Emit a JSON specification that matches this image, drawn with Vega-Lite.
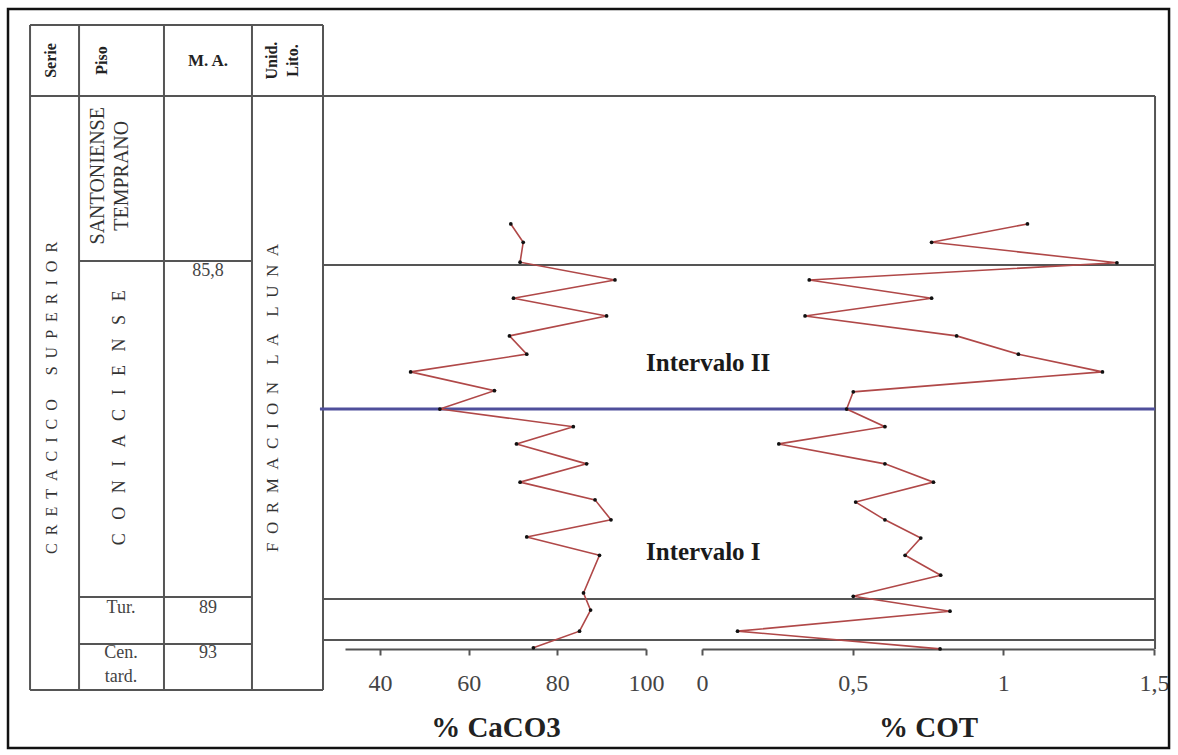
{
  "$schema": "https://vega.github.io/schema/vega-lite/v6.json",
  "width": 1178,
  "height": 755,
  "autosize": {"type": "none"},
  "padding": 0,
  "background": "white",
  "config": {
    "view": {"stroke": null},
    "font": "Liberation Serif",
    "axis": {"labelFont": "Liberation Serif", "titleFont": "Liberation Serif"},
    "text": {"font": "Liberation Serif"}
  },
  "resolve": {"scale": {"x": "independent"}, "axis": {"x": "independent"}},
  "layer": [
    {
      "layer": [
        {
          "data": {"values": [{"x1": 0.68, "x2": 99.24, "y1": -17.69, "y2": 115.7}]},
          "mark": {"type": "rect", "filled": false, "stroke": "#111111", "strokeWidth": 2.5},
          "encoding": {
            "x": {"field": "x1", "type": "quantitative", "scale": {"domain": [0, 100], "range": [0, 1178], "nice": false, "zero": false}, "axis": null},
            "x2": {"field": "x2"},
            "y": {"field": "y1", "type": "quantitative", "scale": {"domain": [0, 100], "range": [650, 96], "nice": false, "zero": false}, "axis": null},
            "y2": {"field": "y2"}
          }
        },
        {
          "data": {"values": [
            {"linea": "borde izquierdo", "x": 2.55, "y1": -7.2, "y2": 112.8},
            {"linea": "Serie/Piso", "x": 6.71, "y1": -7.2, "y2": 112.8},
            {"linea": "Piso/M.A.", "x": 13.92, "y1": -7.2, "y2": 112.8},
            {"linea": "M.A./Unid.", "x": 21.39, "y1": -7.2, "y2": 112.8},
            {"linea": "Unid./grafico", "x": 27.42, "y1": -7.2, "y2": 112.8},
            {"linea": "borde derecho", "x": 98.05, "y1": 0.18, "y2": 100}
          ]},
          "mark": {"type": "rule", "color": "#555555", "strokeWidth": 2},
          "encoding": {
            "x": {"field": "x", "type": "quantitative", "scale": {"domain": [0, 100], "range": [0, 1178], "nice": false, "zero": false}, "axis": null},
            "y": {"field": "y1", "type": "quantitative", "scale": {"domain": [0, 100], "range": [650, 96], "nice": false, "zero": false}, "axis": null},
            "y2": {"field": "y2"}
          }
        },
        {
          "data": {"values": [
            {"linea": "tope tabla", "x1": 2.55, "x2": 27.42, "y": 112.8},
            {"linea": "encabezado", "x1": 2.55, "x2": 98.05, "y": 100},
            {"linea": "base tabla", "x1": 2.55, "x2": 27.42, "y": -7.2},
            {"linea": "Santoniense/Coniaciense", "x1": 6.71, "x2": 21.39, "y": 70.2},
            {"linea": "Coniaciense/Turoniense", "x1": 6.71, "x2": 21.39, "y": 9.57},
            {"linea": "Turoniense/Cenomaniense", "x1": 6.71, "x2": 21.39, "y": 1.08},
            {"linea": "limite 1", "x1": 27.42, "x2": 98.05, "y": 69.5},
            {"linea": "limite 2", "x1": 27.42, "x2": 98.05, "y": 9.2},
            {"linea": "limite 3", "x1": 27.42, "x2": 98.05, "y": 1.8}
          ]},
          "mark": {"type": "rule", "color": "#555555", "strokeWidth": 2},
          "encoding": {
            "x": {"field": "x1", "type": "quantitative", "scale": {"domain": [0, 100], "range": [0, 1178], "nice": false, "zero": false}, "axis": null},
            "x2": {"field": "x2"},
            "y": {"field": "y", "type": "quantitative", "scale": {"domain": [0, 100], "range": [650, 96], "nice": false, "zero": false}, "axis": null}
          }
        },
        {
          "data": {"values": [{"linea": "Intervalo I / Intervalo II", "x1": 27.16, "x2": 98.05, "y": 43.5}]},
          "mark": {"type": "rule", "color": "#4f4f9b", "strokeWidth": 3},
          "encoding": {
            "x": {"field": "x1", "type": "quantitative", "scale": {"domain": [0, 100], "range": [0, 1178], "nice": false, "zero": false}, "axis": null},
            "x2": {"field": "x2"},
            "y": {"field": "y", "type": "quantitative", "scale": {"domain": [0, 100], "range": [650, 96], "nice": false, "zero": false}, "axis": null}
          }
        },
        {
          "data": {"values": [
            {"t": "Serie", "x": 4.3, "y": 106.4},
            {"t": "Piso", "x": 8.66, "y": 106.4},
            {"t": "Unid.\nLito.", "x": 23.09, "y": 106.4}
          ]},
          "mark": {"type": "text", "angle": 270, "align": "center", "baseline": "middle", "fontSize": 16, "fontWeight": "bold", "color": "#222222", "lineBreak": "\n", "lineHeight": 21, "font": "Liberation Serif"},
          "encoding": {
            "x": {"field": "x", "type": "quantitative", "scale": {"domain": [0, 100], "range": [0, 1178], "nice": false, "zero": false}, "axis": null},
            "y": {"field": "y", "type": "quantitative", "scale": {"domain": [0, 100], "range": [650, 96], "nice": false, "zero": false}, "axis": null},
            "text": {"field": "t"}
          }
        },
        {
          "data": {"values": [{"t": "M. A.", "x": 17.66, "y": 106.4}]},
          "mark": {"type": "text", "align": "center", "baseline": "middle", "fontSize": 17, "fontWeight": "bold", "color": "#222222", "font": "Liberation Serif"},
          "encoding": {
            "x": {"field": "x", "type": "quantitative", "scale": {"domain": [0, 100], "range": [0, 1178], "nice": false, "zero": false}, "axis": null},
            "y": {"field": "y", "type": "quantitative", "scale": {"domain": [0, 100], "range": [650, 96], "nice": false, "zero": false}, "axis": null},
            "text": {"field": "t"}
          }
        },
        {
          "data": {"values": [{"t": "C\u00a0\u00a0R\u00a0\u00a0E\u00a0\u00a0T\u00a0\u00a0A\u00a0\u00a0C\u00a0\u00a0I\u00a0\u00a0C\u00a0\u00a0O\u00a0\u00a0\u00a0\u00a0\u00a0\u00a0S\u00a0\u00a0U\u00a0\u00a0P\u00a0\u00a0E\u00a0\u00a0R\u00a0\u00a0I\u00a0\u00a0O\u00a0\u00a0R", "x": 4.41, "y": 45.5}]},
          "mark": {"type": "text", "angle": 270, "align": "center", "baseline": "middle", "fontSize": 16, "color": "#333333", "font": "Liberation Serif"},
          "encoding": {
            "x": {"field": "x", "type": "quantitative", "scale": {"domain": [0, 100], "range": [0, 1178], "nice": false, "zero": false}, "axis": null},
            "y": {"field": "y", "type": "quantitative", "scale": {"domain": [0, 100], "range": [650, 96], "nice": false, "zero": false}, "axis": null},
            "text": {"field": "t"}
          }
        },
        {
          "data": {"values": [{"t": "SANTONIENSE\nTEMPRANO", "x": 8.32, "y": 85.6}]},
          "mark": {"type": "text", "angle": 270, "align": "center", "baseline": "middle", "fontSize": 20, "color": "#333333", "lineBreak": "\n", "lineHeight": 24, "font": "Liberation Serif"},
          "encoding": {
            "x": {"field": "x", "type": "quantitative", "scale": {"domain": [0, 100], "range": [0, 1178], "nice": false, "zero": false}, "axis": null},
            "y": {"field": "y", "type": "quantitative", "scale": {"domain": [0, 100], "range": [650, 96], "nice": false, "zero": false}, "axis": null},
            "text": {"field": "t"}
          }
        },
        {
          "data": {"values": [{"t": "C\u00a0\u00a0\u00a0O\u00a0\u00a0\u00a0N\u00a0\u00a0\u00a0I\u00a0\u00a0\u00a0A\u00a0\u00a0\u00a0C\u00a0\u00a0\u00a0I\u00a0\u00a0\u00a0E\u00a0\u00a0\u00a0N\u00a0\u00a0\u00a0S\u00a0\u00a0\u00a0E", "x": 10.19, "y": 41.9}]},
          "mark": {"type": "text", "angle": 270, "align": "center", "baseline": "middle", "fontSize": 18, "color": "#333333", "font": "Liberation Serif"},
          "encoding": {
            "x": {"field": "x", "type": "quantitative", "scale": {"domain": [0, 100], "range": [0, 1178], "nice": false, "zero": false}, "axis": null},
            "y": {"field": "y", "type": "quantitative", "scale": {"domain": [0, 100], "range": [650, 96], "nice": false, "zero": false}, "axis": null},
            "text": {"field": "t"}
          }
        },
        {
          "data": {"values": [{"t": "F\u00a0\u00a0O\u00a0\u00a0R\u00a0\u00a0M\u00a0\u00a0A\u00a0\u00a0C\u00a0\u00a0I\u00a0\u00a0O\u00a0\u00a0N\u00a0\u00a0\u00a0\u00a0L\u00a0\u00a0A\u00a0\u00a0\u00a0\u00a0L\u00a0\u00a0U\u00a0\u00a0N\u00a0\u00a0A", "x": 23.17, "y": 45.5}]},
          "mark": {"type": "text", "angle": 270, "align": "center", "baseline": "middle", "fontSize": 17, "color": "#333333", "font": "Liberation Serif"},
          "encoding": {
            "x": {"field": "x", "type": "quantitative", "scale": {"domain": [0, 100], "range": [0, 1178], "nice": false, "zero": false}, "axis": null},
            "y": {"field": "y", "type": "quantitative", "scale": {"domain": [0, 100], "range": [650, 96], "nice": false, "zero": false}, "axis": null},
            "text": {"field": "t"}
          }
        },
        {
          "data": {"values": [
            {"t": "85,8", "x": 17.66, "y": 68.4},
            {"t": "Tur.", "x": 10.27, "y": 7.6},
            {"t": "89", "x": 17.66, "y": 7.6},
            {"t": "Cen.\ntard.", "x": 10.27, "y": -0.54},
            {"t": "93", "x": 17.66, "y": -0.5}
          ]},
          "mark": {"type": "text", "align": "center", "baseline": "middle", "fontSize": 18, "color": "#444444", "lineBreak": "\n", "lineHeight": 24, "font": "Liberation Serif"},
          "encoding": {
            "x": {"field": "x", "type": "quantitative", "scale": {"domain": [0, 100], "range": [0, 1178], "nice": false, "zero": false}, "axis": null},
            "y": {"field": "y", "type": "quantitative", "scale": {"domain": [0, 100], "range": [650, 96], "nice": false, "zero": false}, "axis": null},
            "text": {"field": "t"}
          }
        },
        {
          "data": {"values": [
            {"t": "Intervalo II", "x": 54.84, "y": 51.8},
            {"t": "Intervalo I", "x": 54.84, "y": 17.7}
          ]},
          "mark": {"type": "text", "align": "left", "baseline": "middle", "fontSize": 25, "fontWeight": "bold", "color": "#1a1a1a", "font": "Liberation Serif"},
          "encoding": {
            "x": {"field": "x", "type": "quantitative", "scale": {"domain": [0, 100], "range": [0, 1178], "nice": false, "zero": false}, "axis": null},
            "y": {"field": "y", "type": "quantitative", "scale": {"domain": [0, 100], "range": [650, 96], "nice": false, "zero": false}, "axis": null},
            "text": {"field": "t"}
          }
        }
      ]
    },
    {
      "data": {"values": [
        {"h": 76.9, "caco3": 69.5},
        {"h": 73.6, "caco3": 72.3},
        {"h": 70.0, "caco3": 71.6},
        {"h": 66.8, "caco3": 93.0},
        {"h": 63.5, "caco3": 70.1},
        {"h": 60.3, "caco3": 91.1},
        {"h": 56.7, "caco3": 69.2},
        {"h": 53.4, "caco3": 73.1},
        {"h": 50.2, "caco3": 46.9},
        {"h": 46.8, "caco3": 65.8},
        {"h": 43.5, "caco3": 53.5},
        {"h": 40.3, "caco3": 83.6},
        {"h": 37.2, "caco3": 70.8},
        {"h": 33.6, "caco3": 86.6},
        {"h": 30.3, "caco3": 71.6},
        {"h": 27.1, "caco3": 88.5},
        {"h": 23.5, "caco3": 92.1},
        {"h": 20.4, "caco3": 73.1},
        {"h": 17.1, "caco3": 89.5},
        {"h": 10.3, "caco3": 85.9},
        {"h": 7.2, "caco3": 87.5},
        {"h": 3.4, "caco3": 85.0},
        {"h": 0.4, "caco3": 74.6}
      ]},
      "encoding": {
        "x": {
          "field": "caco3", "type": "quantitative",
          "scale": {"domain": [32.1, 100], "range": [345, 646], "nice": false, "zero": false},
          "axis": {
            "orient": "bottom", "offset": -106, "values": [40, 60, 80, 100], "grid": false,
            "title": "% CaCO3", "labelFlush": false, "labelOverlap": false,
            "domainColor": "#555555", "domainWidth": 2, "tickColor": "#555555", "tickWidth": 2, "tickSize": 6,
            "labelFont": "Liberation Serif", "labelFontSize": 24, "labelColor": "#444444", "labelPadding": 16,
            "titleFont": "Liberation Serif", "titleFontSize": 29, "titleFontWeight": "bold", "titleColor": "#222222", "titlePadding": 18
          }
        },
        "y": {"field": "h", "type": "quantitative", "scale": {"domain": [0, 100], "range": [650, 96], "nice": false, "zero": false}, "axis": null}
      },
      "layer": [
        {"mark": {"type": "line", "color": "#b04848", "strokeWidth": 1.6}, "encoding": {"order": {"field": "h", "type": "quantitative"}}},
        {"mark": {"type": "point", "filled": true, "color": "#111111", "size": 14, "opacity": 1}}
      ]
    },
    {
      "data": {"values": [
        {"h": 76.9, "cot": 1.08},
        {"h": 73.6, "cot": 0.762},
        {"h": 69.9, "cot": 1.377},
        {"h": 66.8, "cot": 0.356},
        {"h": 63.5, "cot": 0.762},
        {"h": 60.3, "cot": 0.342},
        {"h": 56.7, "cot": 0.845},
        {"h": 53.4, "cot": 1.05},
        {"h": 50.2, "cot": 1.329},
        {"h": 46.6, "cot": 0.502},
        {"h": 43.5, "cot": 0.48},
        {"h": 40.3, "cot": 0.607},
        {"h": 37.2, "cot": 0.255},
        {"h": 33.6, "cot": 0.607},
        {"h": 30.3, "cot": 0.768},
        {"h": 26.7, "cot": 0.51},
        {"h": 23.5, "cot": 0.607},
        {"h": 20.2, "cot": 0.726},
        {"h": 17.1, "cot": 0.674},
        {"h": 13.5, "cot": 0.792},
        {"h": 9.7, "cot": 0.502},
        {"h": 7.0, "cot": 0.823},
        {"h": 3.4, "cot": 0.118},
        {"h": 0.2, "cot": 0.79}
      ]},
      "encoding": {
        "x": {
          "field": "cot", "type": "quantitative",
          "scale": {"domain": [0, 1.5], "range": [702, 1154], "nice": false, "zero": false},
          "axis": {
            "orient": "bottom", "offset": -106, "values": [0, 0.5, 1, 1.5], "grid": false,
            "title": "% COT", "labelFlush": false, "labelOverlap": false,
            "labelExpr": "replace(format(datum.value, '~g'), '.', ',')",
            "domainColor": "#555555", "domainWidth": 2, "tickColor": "#555555", "tickWidth": 2, "tickSize": 6,
            "labelFont": "Liberation Serif", "labelFontSize": 24, "labelColor": "#444444", "labelPadding": 16,
            "titleFont": "Liberation Serif", "titleFontSize": 29, "titleFontWeight": "bold", "titleColor": "#222222", "titlePadding": 18
          }
        },
        "y": {"field": "h", "type": "quantitative", "scale": {"domain": [0, 100], "range": [650, 96], "nice": false, "zero": false}, "axis": null}
      },
      "layer": [
        {"mark": {"type": "line", "color": "#b04848", "strokeWidth": 1.6}, "encoding": {"order": {"field": "h", "type": "quantitative"}}},
        {"mark": {"type": "point", "filled": true, "color": "#111111", "size": 14, "opacity": 1}}
      ]
    }
  ]
}
